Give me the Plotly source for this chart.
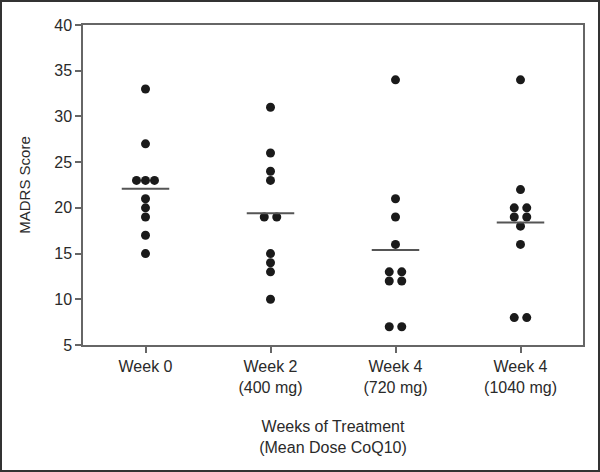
import plotly.graph_objects as go
from collections import Counter

categories = ["Week 0", "Week 2<br>(400 mg)", "Week 4<br>(720 mg)", "Week 4<br>(1040 mg)"]
week0 = [33, 27, 23, 23, 23, 21, 20, 19, 17, 15]
week2 = [31, 26, 24, 23, 19, 19, 15, 14, 13, 10]
week4_720 = [34, 21, 19, 16, 13, 13, 12, 12, 7, 7]
week4_1040 = [34, 22, 20, 20, 19, 19, 18, 16, 8, 8]
groups = [week0, week2, week4_720, week4_1040]

PL, PR, PT, PB = 83, 17, 25, 127
W, H = 600, 472
pw, ph = W - PL - PR, H - PT - PB
FONT = "Liberation Sans, Arial"
TXT = "#2a2a2a"

fig = go.Figure()
for i, vals in enumerate(groups):
    center = i + 0.5
    counts = Counter(vals)
    seen = Counter()
    xs, ys = [], []
    for v in vals:
        n = counts[v]
        step = 0.1 if n == 2 else 0.072
        k = seen[v]
        seen[v] += 1
        xs.append(center + (k - (n - 1) / 2) * step)
        ys.append(v)
    fig.add_trace(go.Scatter(x=xs, y=ys, mode="markers",
                             marker=dict(size=9, color="#1a1a1a"),
                             showlegend=False, hoverinfo="y"))
    mean = sum(vals) / len(vals)
    fig.add_trace(go.Scatter(x=[center - 0.19, center + 0.19], y=[mean, mean],
                             mode="lines", line=dict(color="#555555", width=2),
                             showlegend=False, hoverinfo="skip"))

axis_common = dict(showline=True, linecolor="#666666", linewidth=1.5, mirror=True,
                   ticks="outside", ticklen=6, tickwidth=1.5, tickcolor="#666666",
                   showgrid=False, zeroline=False,
                   tickfont=dict(family=FONT, size=16, color=TXT))

fig.update_xaxes(range=[0, 4], tickmode="array", tickvals=[0.5, 1.5, 2.5, 3.5],
                 ticktext=categories,
                 title=dict(text="Weeks of Treatment<br>(Mean Dose CoQ10)",
                            font=dict(family=FONT, size=16, color=TXT),
                            standoff=26),
                 **axis_common)
fig.update_yaxes(range=[5, 40], tickmode="array", tickvals=[5, 10, 15, 20, 25, 30, 35, 40],
                 title=dict(text="MADRS Score",
                            font=dict(family=FONT, size=15, color=TXT),
                            standoff=20),
                 **axis_common)

fig.add_shape(type="rect", xref="paper", yref="paper",
              x0=(-PL + 1) / pw, x1=1 + (PR - 1) / pw,
              y0=(-PB + 1) / ph, y1=1 + (PT - 1) / ph,
              line=dict(color="#333333", width=2), layer="below")

fig.update_layout(width=W, height=H, margin=dict(l=PL, r=PR, t=PT, b=PB),
                  plot_bgcolor="white", paper_bgcolor="white",
                  font=dict(family=FONT))

fig.write_html("out.html", config={"displayModeBar": False},
               post_script="document.body.style.margin='0';")
